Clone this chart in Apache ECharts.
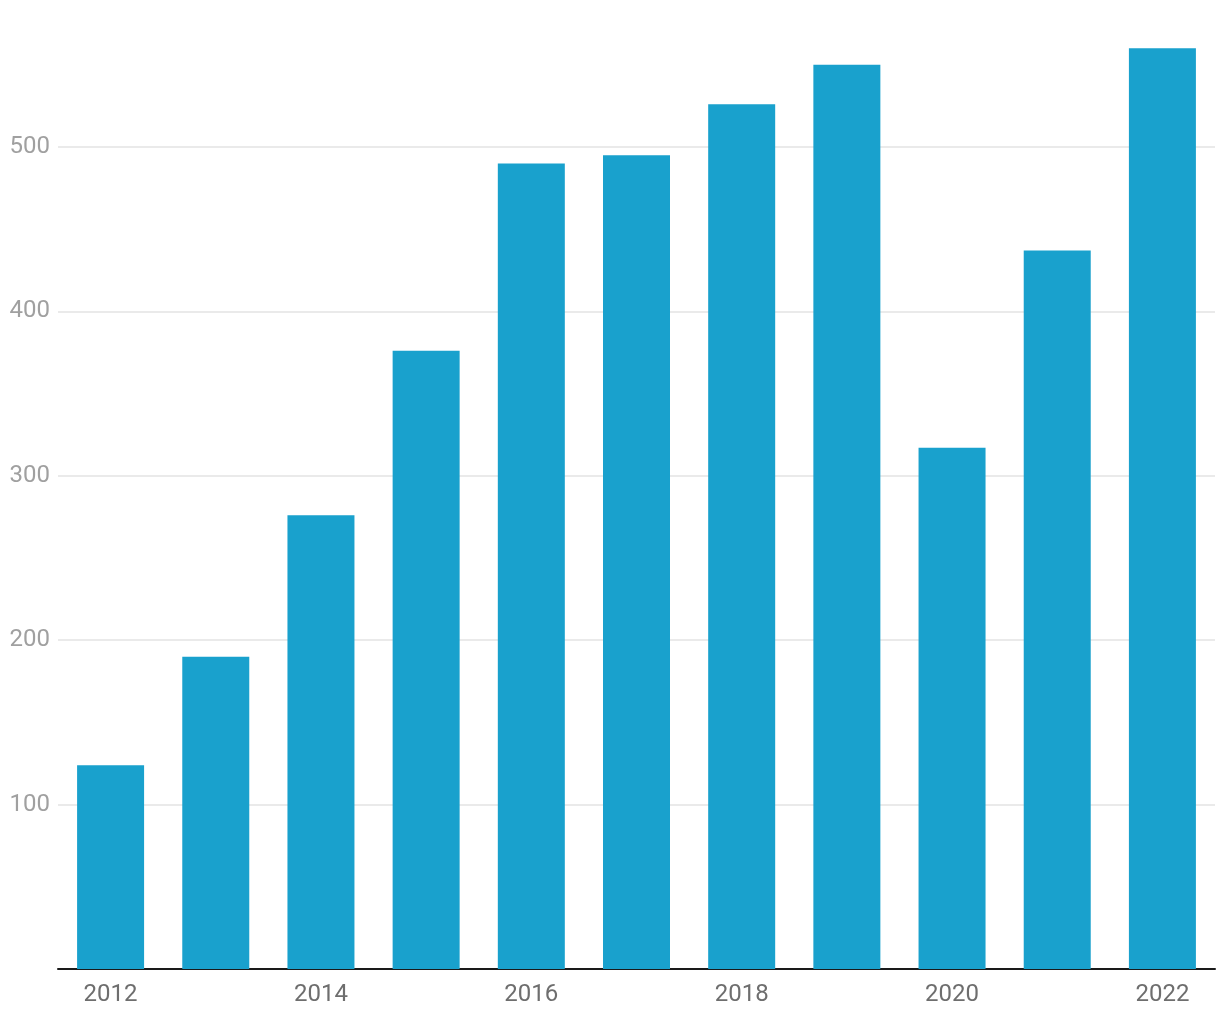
<!DOCTYPE html>
<html><head><meta charset="utf-8">
<script src="https://cdn.jsdelivr.net/npm/echarts@6/dist/echarts.min.js"></script>
<style>html,body{margin:0;padding:0;background:#fff}#c{width:1220px;height:1020px}</style>
</head><body><div id="c"></div>
<script>
const years = ['2012','2013','2014','2015','2016','2017','2018','2019','2020','2021','2022'];
const values = [124, 190, 276, 376, 490, 495, 526, 550, 317, 437, 560];
const yTicks = [100, 200, 300, 400, 500];

const chart = echarts.init(document.getElementById('c'));
chart.setOption({
  animation: false,
  grid: { left: 58, right: 5, top: 0, bottom: 51, containLabel: false },
  xAxis: {
    type: 'category', data: years, boundaryGap: true,
    axisLine: { show: true, lineStyle: { color: '#1a1a1a', width: 2 } },
    axisTick: { show: false },
    axisLabel: { interval: 1, color: '#6e6e6e', fontSize: 24, fontFamily: 'Roboto', margin: 14 }
  },
  yAxis: {
    type: 'value', min: 0, max: 589.4, interval: 100,
    axisLine: { show: false }, axisTick: { show: false },
    axisLabel: {
      color: '#a0a0a0', fontSize: 24, fontFamily: 'Roboto', margin: 8,
      showMaxLabel: false,
      formatter: v => yTicks.includes(v) ? String(v) : ''
    },
    splitLine: { show: false }
  },
  series: [{
    type: 'bar', data: values, barWidth: 67, z: 3,
    itemStyle: { color: '#19a1cd' },
    markLine: {
      silent: true, symbol: 'none', label: { show: false },
      lineStyle: { color: '#e3e3e3', width: 1.5, type: 'solid' },
      z: 1,
      data: yTicks.map(v => ({ yAxis: v }))
    }
  }]
});
</script></body></html>
